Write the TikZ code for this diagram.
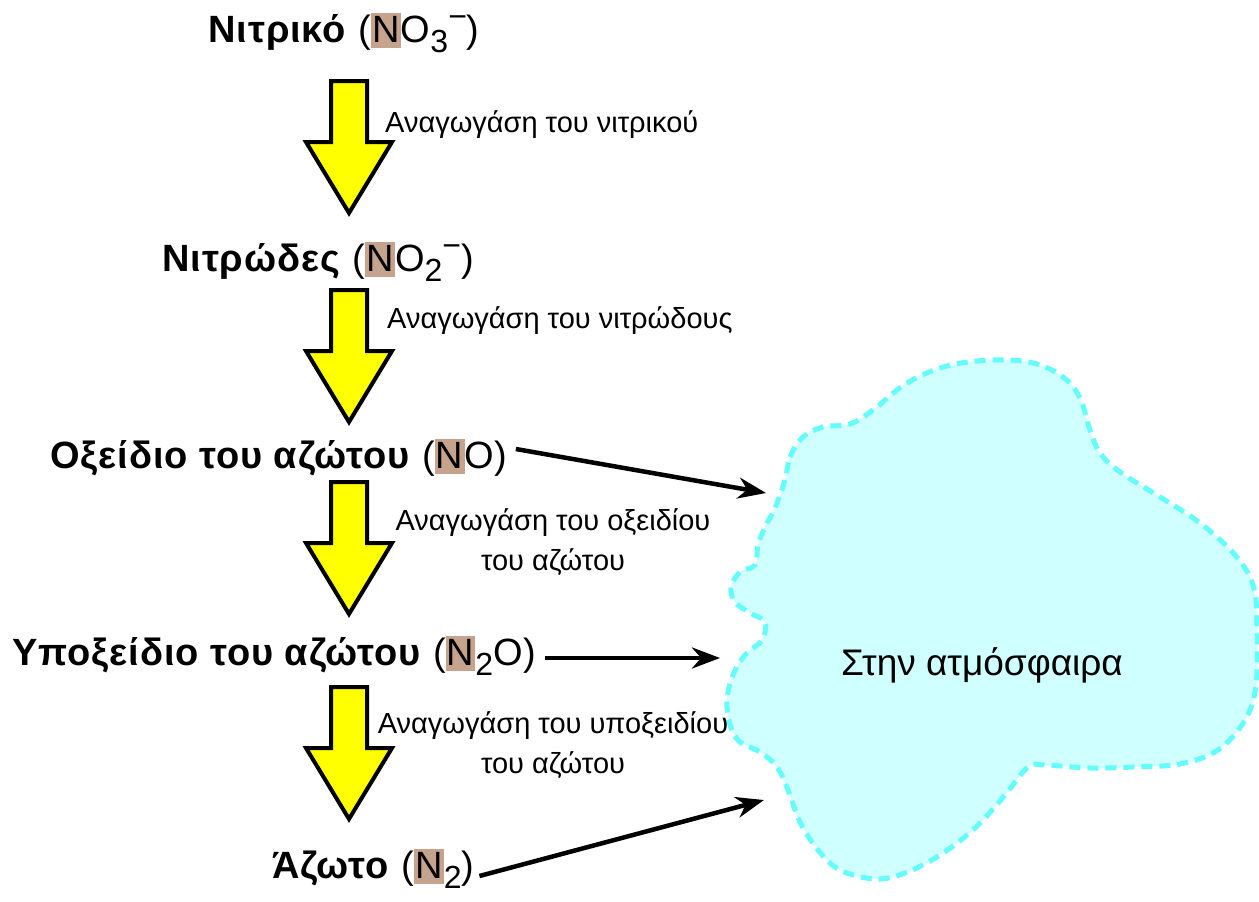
\documentclass[tikz,border=0pt]{standalone}
\usepackage{fontspec}
\setmainfont{Liberation Sans}
\newfontfamily\speciesfont[LetterSpace=2.5]{Liberation Sans}
\usetikzlibrary{arrows.meta}

\definecolor{ntan}{RGB}{198,163,140}
\definecolor{cloudfill}{RGB}{208,255,255}
\definecolor{cloudline}{RGB}{100,252,252}
\definecolor{blockyellow}{RGB}{255,255,0}

% nitrogen atom with its tan highlight
\newcommand\hiN{\begingroup\setlength{\fboxsep}{0pt}\colorbox{ntan}{\rule[-0.16em]{0pt}{0.92em}\hspace{0.03em}N\hspace{0.03em}}\endgroup}
\newcommand\chsub[1]{\raisebox{-0.28em}{\fontsize{32}{32}\selectfont #1}}
\newcommand\chsup[1]{\raisebox{0.38em}{\fontsize{32}{32}\selectfont #1}}

\tikzset{
  species/.style={inner sep=0pt, anchor=base west, font=\speciesfont\fontsize{38}{42}\selectfont},
  steplabel/.style={inner sep=0pt, font=\fontsize{29}{40}\selectfont},
  cloudtext/.style={inner sep=0pt, anchor=base, font=\fontsize{37}{40}\selectfont},
  blockarrow/.style={draw=black, line width=4pt, fill=blockyellow, line join=miter},
  release/.style={line width=4.5pt, -{Stealth[length=28pt,width=21pt,inset=9pt]}},
  pics/downarrow/.style={code={
    \draw[blockarrow] (-18,0) -- (18,0) -- (18,61) -- (43,61) -- (0,132)
      -- (-43,61) -- (-18,61) -- cycle;
  }}
}

\begin{document}
\begin{tikzpicture}[x=1pt,y=-1pt]
\useasboundingbox (0,0) rectangle (1259,902);

% the atmosphere
\draw[cloudline, fill=cloudfill, line width=5pt, dash pattern=on 11pt off 7pt]
  plot[smooth cycle, tension=0.6] coordinates {
    (785,480) (790,457) (803,437) (823,427) (850,424) (873,410) (907,383)
    (947,366) (993,360) (1033,363) (1063,377) (1080,398) (1090,430)
    (1100,453) (1120,472) (1160,497) (1200,523) (1235,555) (1253,585)
    (1257,625) (1256,685) (1245,720) (1218,750) (1180,764) (1133,767)
    (1090,768) (1045,765) (1028,767) (1005,795) (975,828) (940,855)
    (905,873) (875,879) (840,870) (818,850) (800,822) (788,790) (777,767)
    (760,752) (740,742) (730,725) (727,700) (733,675) (745,655) (762,640)
    (765,622) (750,613) (735,602) (731,587) (740,572) (755,565) (758,545)
    (765,527) (775,508)};
\node[cloudtext] (atm) at (982,675) {Στην ατμόσφαιρα};

% the reduction chain
\node[species] (no3) at (208,42)  {\textbf{Νιτρικό} (\hiN O\chsub{3}\chsup{−})};
\node[species] (no2) at (162,271) {\textbf{Νιτρώδες} (\hiN O\chsub{2}\chsup{−})};
\node[species] (no)  at (50,468)  {\textbf{Οξείδιο του αζώτου} (\hiN O)};
\node[species] (n2o) at (12,665)  {\textbf{Υποξείδιο του αζώτου} (\hiN\chsub{2}O)};
\node[species] (n2)  at (272,878) {\textbf{Άζωτο} (\hiN\chsub{2})};

\pic at (349,81)  {downarrow};
\pic at (349,290) {downarrow};
\pic at (349,482) {downarrow};
\pic at (349,687) {downarrow};

\node[steplabel, anchor=base west] (r1) at (385,132) {Αναγωγάση του νιτρικού};
\node[steplabel, anchor=base west] (r2) at (387,328) {Αναγωγάση του νιτρώδους};
\node[steplabel, anchor=base, align=center] (r3) at (553,570) {Αναγωγάση του οξειδίου\\του αζώτου};
\node[steplabel, anchor=base, align=center] (r4) at (553,773) {Αναγωγάση του υποξειδίου\\του αζώτου};

% gases escaping to the atmosphere
\coordinate (in1) at (766,493);
\coordinate (in2) at (720,658);
\coordinate (in3) at (764,800);
\draw[release] ([shift={(8,-19)}]no.base east) -- (in1);
\draw[release] ([shift={(8,-7)}]n2o.base east) -- (in2);
\draw[release] ([shift={(5,-2)}]n2.base east) -- (in3);
\end{tikzpicture}
\end{document}
